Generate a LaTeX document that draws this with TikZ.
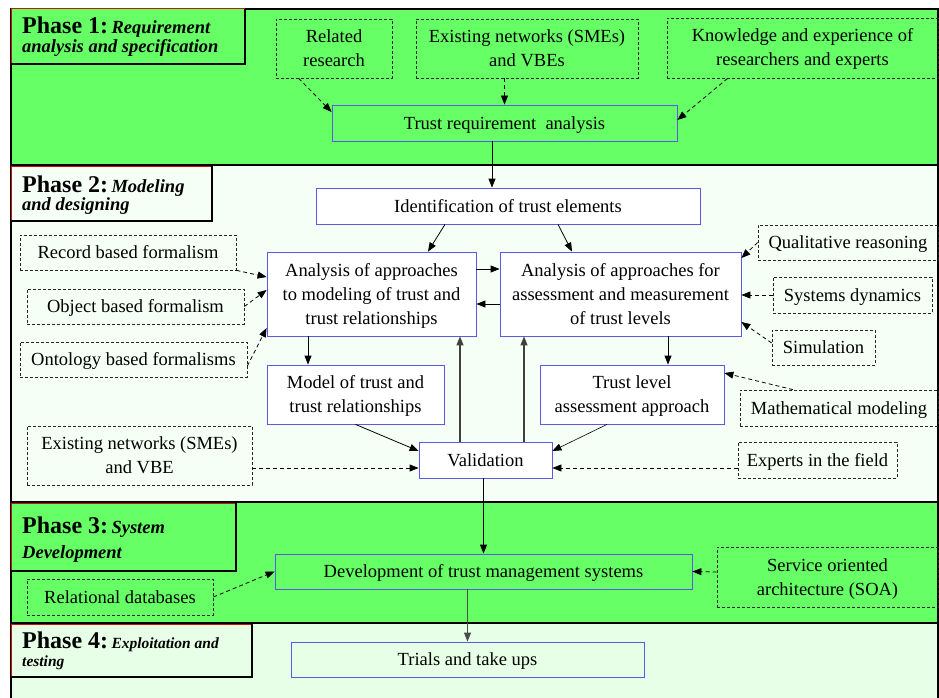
\documentclass[tikz,border=0pt]{standalone}
\usepackage{fontspec}
\setmainfont{Liberation Serif}
\usetikzlibrary{arrows.meta}
\definecolor{gband}{HTML}{66FF66}
\definecolor{ptwobg}{HTML}{F5FFF5}
\definecolor{pfourbg}{HTML}{E6FFE6}
\definecolor{bluebd}{HTML}{5A5AE6}
\definecolor{redbd}{HTML}{CC1111}
\newcommand\bodyfs{\fontsize{18.5}{24}\selectfont}
\newcommand\phfs{\fontsize{24}{20}\selectfont\bfseries}
\newcommand\subfs{\fontsize{18.5}{20}\selectfont\bfseries\itshape}
\newcommand\lnst{\rule[-5pt]{0pt}{22pt}}
\begin{document}
\begin{tikzpicture}[x=1pt,y=-1pt,
  box/.style={draw=bluebd, line width=0.8pt, align=center, inner sep=0pt, font=\bodyfs},
  dbox/.style={draw=black!85, line width=0.7pt, dash pattern=on 3pt off 2pt, align=center, inner sep=0pt, font=\bodyfs},
  sarr/.style={-{Triangle[length=9pt,width=7pt]}, line width=0.8pt},
  darr/.style={sarr, dash pattern=on 4pt off 3pt},
  band/.style={line width=1.5pt, draw=black},
  phtext/.style={anchor=base west, inner sep=0pt},
]
\useasboundingbox (0,0) rectangle (939,698);
\fill[white] (0,0) rectangle (939,698);
% bands
\filldraw[band, fill=gband] (11,9) rectangle (938,165);
\filldraw[band, fill=ptwobg] (11,165) rectangle (938,502);
\filldraw[band, fill=gband] (11,502) rectangle (938,623);
\fill[pfourbg] (11,623) rectangle (938,698);
\draw[band] (11,699) -- (11,623) -- (938,623) -- (938,699);
% phase label boxes
\fill[gband] (11,9) rectangle (245,64);
\draw[redbd, line width=1pt] (11,64) -- (11,9) -- (245,9);
\draw[line width=2.5pt] (245,9) -- (245,64) -- (11,64);
\fill[ptwobg] (11,166) rectangle (212,221);
\draw[redbd, line width=1pt] (11,221) -- (11,166) -- (212,166);
\draw[line width=2.5pt] (212,166) -- (212,221) -- (11,221);
\fill[gband] (11,503) rectangle (236,571);
\draw[redbd, line width=1pt] (11,571) -- (11,503) -- (236,503);
\draw[line width=2.5pt] (236,503) -- (236,571) -- (11,571);
\fill[pfourbg] (11,624) rectangle (252,677);
\draw[redbd, line width=1pt] (11,677) -- (11,624) -- (252,624);
\draw[line width=2.5pt] (252,624) -- (252,677) -- (11,677);
\node[phtext] (ph1a) at (22,34) {{\phfs Phase 1:} {\subfs Requirement}};
\node[phtext] (ph1b) at (22,53) {\subfs analysis and specification};
\node[phtext] (ph2a) at (22,192) {{\phfs Phase 2:} {\subfs Modeling}};
\node[phtext] (ph2b) at (22,210) {\subfs and designing};
\node[phtext] (ph3a) at (22,533) {{\phfs Phase 3:} {\subfs System}};
\node[phtext] (ph3b) at (22,558) {\subfs Development};
\node[phtext] (ph4a) at (22,648) {{\phfs Phase 4:} {\fontsize{15.5}{19}\selectfont\bfseries\itshape Exploitation and}};
\node[phtext] (ph4b) at (22,666) {\fontsize{15.5}{19}\selectfont\bfseries\itshape testing};
% solid boxes
\node[box, fill=gband, minimum width=345pt, minimum height=36pt] (tra) at (504.5,123) {\lnst Trust requirement\ \ analysis};
\node[box, fill=white, minimum width=384pt, minimum height=36pt] (ident) at (508,206) {\lnst Identification of trust elements};
\node[box, fill=white, minimum width=209pt, minimum height=84pt] (a1) at (371.5,294) {\lnst Analysis of approaches\\\lnst to modeling of trust and\\\lnst trust relationships};
\node[box, fill=white, minimum width=241pt, minimum height=84pt] (a2) at (620.5,294) {\lnst Analysis of approaches for\\\lnst assessment and measurement\\\lnst of trust levels};
\node[box, fill=white, minimum width=177pt, minimum height=59pt] (m) at (355.5,394.5) {\lnst Model of trust and\\\lnst trust relationships};
\node[box, fill=white, minimum width=184pt, minimum height=59pt] (t) at (632,394.5) {\lnst Trust level\\\lnst assessment approach};
\node[box, fill=white, minimum width=133pt, minimum height=36pt] (v) at (485.5,460) {\lnst Validation};
\node[box, fill=gband, minimum width=417pt, minimum height=35pt] (dev) at (483.5,571.5) {\lnst Development of trust management systems};
\node[box, fill=pfourbg, minimum width=353pt, minimum height=35pt] (trials) at (467.5,659.5) {\lnst Trials and take ups};
% dashed boxes
\node[dbox, minimum width=116pt, minimum height=59pt] (rr) at (334,48.5) {\lnst Related\\\lnst research};
\node[dbox, minimum width=222pt, minimum height=59pt] (en1) at (527,48.5) {\lnst Existing networks (SMEs)\\\lnst and VBEs};
\node[dbox, minimum width=271pt, minimum height=60pt] (ke) at (802.5,48) {\lnst Knowledge and experience of\\\lnst researchers and experts};
\node[dbox, minimum width=216pt, minimum height=35pt] (rec) at (128,252.5) {\lnst Record based formalism};
\node[dbox, minimum width=217pt, minimum height=35pt] (obj) at (135.5,306.5) {\lnst Object based formalism};
\node[dbox, minimum width=227pt, minimum height=35pt] (ont) at (133.5,359.5) {\lnst Ontology based formalisms};
\node[dbox, minimum width=180pt, minimum height=35pt] (qual) at (848,242.5) {\lnst Qualitative reasoning};
\node[dbox, minimum width=159pt, minimum height=36pt] (sys) at (852.5,295) {\lnst Systems dynamics};
\node[dbox, minimum width=103pt, minimum height=35pt] (sim) at (823.5,347.5) {\lnst Simulation};
\node[dbox, minimum width=198pt, minimum height=36pt] (math) at (839,408) {\lnst Mathematical modeling};
\node[dbox, minimum width=159pt, minimum height=36pt] (exp) at (817.5,460) {\lnst Experts in the field};
\node[dbox, minimum width=225pt, minimum height=59pt] (en2) at (139.5,455.5) {\lnst Existing networks (SMEs)\\\lnst and VBE};
\node[dbox, minimum width=186pt, minimum height=36pt] (rel) at (120,597) {\lnst Relational databases};
\node[dbox, minimum width=221pt, minimum height=60pt] (soa) at (827.5,577) {\lnst Service oriented\\\lnst architecture (SOA)};
% solid connectors
\draw[sarr] ([xshift=-12.5pt]tra.south) -- ([xshift=-16pt]ident.north);
\draw[sarr] ([xshift=-63pt]ident.south) -- ([xshift=56.5pt]a1.north);
\draw[sarr] ([xshift=50pt]ident.south) -- ([xshift=-48.5pt]a2.north);
\draw[sarr] ([yshift=25pt]a1.east) -- ([yshift=25pt]a2.west);
\draw[sarr] ([yshift=-10pt]a2.west) -- ([yshift=-10pt]a1.east);
\draw[sarr] ([xshift=-63.5pt]a1.south) -- ([xshift=-47.5pt]m.north);
\draw[sarr] ([xshift=47.5pt]a2.south) -- ([xshift=36pt]t.north);
\draw[sarr, line width=1.2pt, draw=black!75] ([xshift=-25.5pt]v.north) -- ([xshift=88.5pt]a1.south);
\draw[sarr, line width=1.2pt, draw=black!75] ([xshift=38.5pt]v.north) -- ([xshift=-96.5pt]a2.south);
\draw[sarr] (m.south) -- ([yshift=9pt]v.west);
\draw[sarr, line width=0.6pt] ([xshift=-25pt]t.south) -- ([yshift=9pt]v.east);
\draw[sarr] ([xshift=-2pt]v.south) -- ([xshift=0pt]dev.north);
\draw[sarr, draw=black!70] (dev.south -| trials.north) -- (trials.north);
% dashed connectors
\draw[darr] ([xshift=23pt]rr.south west) -- ([yshift=11pt]tra.west);
\draw[darr] (tra.north |- en1.south) -- (tra.north);
\draw[darr] ([xshift=61pt]ke.south west) -- ([yshift=3pt]tra.east);
\draw[darr] (rec.south east) -- ([yshift=17pt]a1.west);
\draw[darr] (obj.east) -- ([yshift=4pt]a1.west);
\draw[darr] ([yshift=-6.5pt]ont.east) -- ([yshift=-34pt]a1.west);
\draw[darr] (qual.west) -- ([yshift=36pt]a2.east);
\draw[darr] (sys.west) -- (a2.east |- sys.west);
\draw[darr] ([yshift=4.5pt]sim.west) -- ([yshift=-28pt]a2.east);
\draw[darr] ([xshift=-46pt]math.north) -- ([yshift=21.5pt]t.east);
\draw[darr] ([yshift=-8pt]exp.west) -- ([yshift=-8pt]v.east);
\draw[darr] ([yshift=-12.5pt]en2.east) -- ([yshift=-8pt]v.west);
\draw[darr] (rel.east) -- (dev.west);
\draw[darr] ([yshift=5pt]soa.west) -- (dev.east);
\end{tikzpicture}
\end{document}
